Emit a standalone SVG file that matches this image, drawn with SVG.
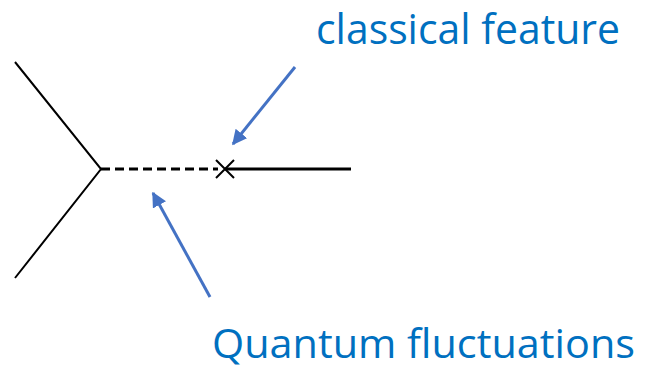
<svg xmlns="http://www.w3.org/2000/svg" width="647" height="371" viewBox="0 0 647 371">
<defs>
<style>
.k{stroke:#000;fill:none;stroke-linecap:butt}
.b{stroke:#4472C4;stroke-width:3;fill:none}
.t{fill:#0070C0;font-family:"Open Sans","Liberation Sans",sans-serif}
</style>
<marker id="ah" viewBox="0 0 10 10" refX="9" refY="5" markerWidth="5" markerHeight="5" markerUnits="strokeWidth" orient="auto">
<path d="M0,0 L10,5 L0,10 z" fill="#4472C4"/>
</marker>
</defs>
<rect width="647" height="371" fill="#fff"/>
<g id="vertex">
<path class="k" stroke-width="2" d="M15,62 L101,169 L15,278"/>
</g>
<g id="quantum-line">
<path class="k" stroke-width="3" stroke-dasharray="9,5" d="M101,169 L218,169"/>
</g>
<g id="classical-line">
<path class="k" stroke-width="3" d="M225,169 L351,169"/>
</g>
<g id="cross">
<path class="k" stroke-width="2" d="M216,160 L234,178 M234,160 L216,178"/>
</g>
<g id="connectors">
<path class="b" marker-end="url(#ah)" d="M295,67 L233,144"/>
<path class="b" marker-end="url(#ah)" d="M210,297 L153,193"/>
</g>
<g id="label-classical">
<text class="t" x="316" y="44" font-size="42" textLength="304" lengthAdjust="spacingAndGlyphs">classical feature</text>
</g>
<g id="label-quantum">
<text class="t" x="212" y="358" font-size="40" textLength="423" lengthAdjust="spacingAndGlyphs">Quantum fluctuations</text>
</g>
</svg>
